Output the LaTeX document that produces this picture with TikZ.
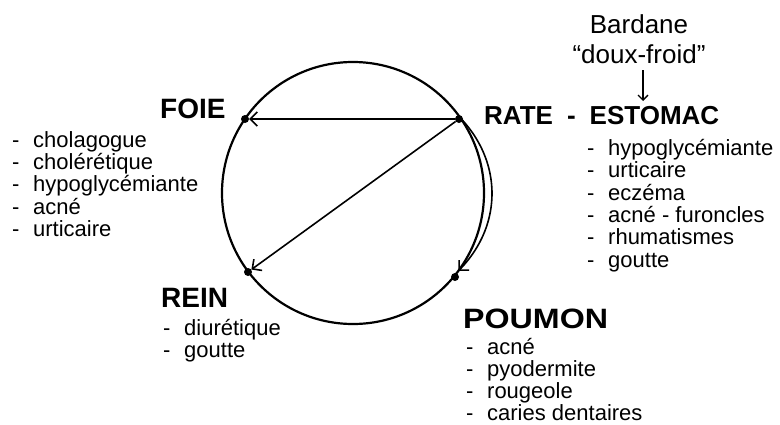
\documentclass[tikz,border=0pt]{standalone}
\usepackage{fontspec}
\setmainfont{Liberation Sans}
\usetikzlibrary{arrows.meta}
\tikzset{
  dot/.style={circle,fill=black,inner sep=0pt,minimum size=8pt},
  conn/.style={line width=1.6pt,-{Straight Barb[length=7pt,width=14pt,line width=1.6pt]}},
  ttl/.style={anchor=base west,inner sep=0pt,font=\fontsize{28}{28}\selectfont\bfseries},
  itm/.style={anchor=base west,inner sep=0pt,font=\fontsize{22}{22}\selectfont},
  lbl/.style={anchor=base,inner sep=0pt,font=\fontsize{26}{26}\selectfont},
}
\newcommand\tiret[1]{\makebox[21pt][l]{-}#1}
\begin{document}
\begin{tikzpicture}[x=1pt,y=-1pt]
\useasboundingbox (0,0) rectangle (780,424);
% circle
\draw[line width=2.2pt] (353,193) circle[radius=131pt];
% dots
\node[dot] (foie) at (245,119) {};
\node[dot] (rate) at (459,119) {};
\node[dot] (rein) at (248,272) {};
\node[dot] (poumon) at (455,277) {};
% connectors
\draw[conn] (rate) -- (foie);
\draw[conn] (rate) -- (rein);
\draw[conn] plot[domain=34.9:-36.5,samples=60,smooth]
  ({353+(131+8*sin(180*(34.9-\x)/71.4))*cos(\x)},{193-(131+8*sin(180*(34.9-\x)/71.4))*sin(\x)});
% Bardane
\node[lbl] (bard) at (639,33) {Bardane};
\node[lbl] (doux) at (639,63) {“doux-froid”};
\coordinate (dA) at (643,70);
\coordinate (dB) at (643,101);
\draw[line width=1.3pt,-{Straight Barb[length=5pt,width=10pt,line width=1.3pt]}] (dA) -- (dB);
% titles
\node[ttl] (tfoie) at (160,118) {FOIE};
\node[ttl,font=\fontsize{26}{26}\selectfont\bfseries] (trate) at (484,124) {RATE\hspace{14pt}-\hspace{14pt}ESTOMAC};
\node[ttl] (trein) at (161,307) {REIN};
\node[ttl] (tpoumon) at (463,328) {\scalebox{1.15}[1]{POUMON}};
% FOIE list
\node[itm] (f1) at (12,147.5) {\tiret{cholagogue}};
\node[itm] (f2) at (12,169.7) {\tiret{cholérétique}};
\node[itm] (f3) at (12,191.9) {\tiret{hypoglycémiante}};
\node[itm] (f4) at (12,214.1) {\tiret{acné}};
\node[itm] (f5) at (12,236.3) {\tiret{urticaire}};
% RATE list
\node[itm] (r1) at (587,155.5) {\tiret{hypoglycémiante}};
\node[itm] (r2) at (587,177.8) {\tiret{urticaire}};
\node[itm] (r3) at (587,200.1) {\tiret{eczéma}};
\node[itm] (r4) at (587,222.4) {\tiret{acné - furoncles}};
\node[itm] (r5) at (587,244.7) {\tiret{rhumatismes}};
\node[itm] (r6) at (587,267.0) {\tiret{goutte}};
% REIN list
\node[itm] (n1) at (163,335) {\tiret{diurétique}};
\node[itm] (n2) at (163,357.5) {\tiret{goutte}};
% POUMON list
\node[itm] (p1) at (466,354) {\tiret{acné}};
\node[itm] (p2) at (466,376) {\tiret{pyodermite}};
\node[itm] (p3) at (466,398) {\tiret{rougeole}};
\node[itm] (p4) at (466,420) {\tiret{caries dentaires}};
\end{tikzpicture}
\end{document}
